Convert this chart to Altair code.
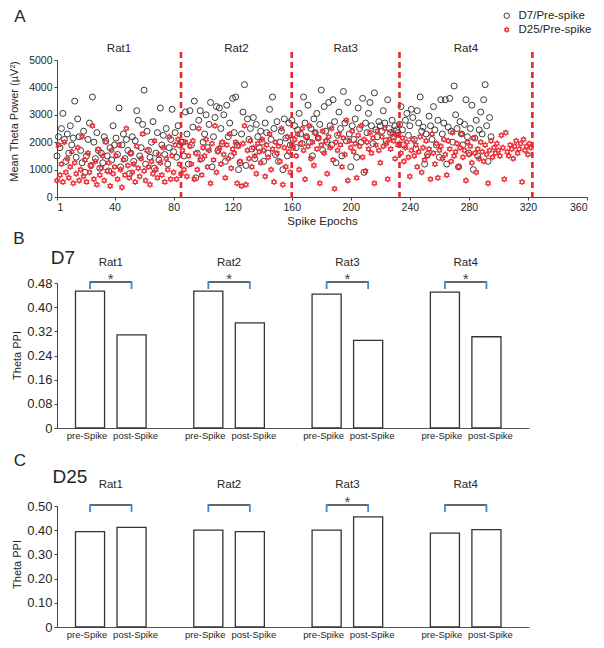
import altair as alt
import pandas as pd

FONT = "Liberation Sans, Arial, Helvetica, sans-serif"

# ---------------- data ----------------
rat_names = ["Rat1", "Rat2", "Rat3", "Rat4"]
rat_starts = [1, 85, 160, 233]
rat_bounds = [85, 160, 233, 323]          # dashed separators (spike epoch)
series_names = ["D7/Pre-spike", "D25/Pre-spike"]

# Mean theta power (uV^2) per spike epoch, D7 pre-spike (black circles)
d7_pre_power = [
    # Rat1
    1500, 2200, 1800, 2500, 3050, 2100, 1300, 2300, 1600, 2600,
    1900, 2150, 3500, 1450, 2850, 2200, 1700, 1250, 2400, 900,
    1500, 2100, 2700, 1150, 3650, 2000, 1400, 2350, 1700, 1050,
    1600, 1250, 2200, 2050, 1500, 950, 1800, 1350, 2600, 1900,
    2150, 1550, 3250, 1100, 1900, 2300, 1400, 2100, 1700, 850,
    1600, 2200, 1300, 2050, 3150, 2800, 1500, 1800, 2650, 3900,
    1200, 2400, 1700, 1450, 2000, 2750, 1050, 1600, 2350, 1350,
    3250, 1900, 2250, 1550, 2500, 1200, 1800, 2100, 3200, 1650,
    2350, 1450, 2600, 1900, 2000,
    # Rat2
    2000, 1500, 3100, 2300, 1200,
    3150, 1900, 2550, 3500, 700, 1600, 2800, 3150, 1400, 2000,
    2300, 3000, 1800, 2650, 3450, 1100, 2200, 2900, 3300, 1700,
    3250, 2500, 1950, 3000, 1300, 3350, 2200, 2700, 1500, 3600,
    2350, 3650, 1900, 1000, 1250, 2300, 3100, 4100, 1150, 2850,
    2100, 2500, 1750, 2900, 1400, 2650, 2200, 1800, 2400, 2000,
    1300, 2700, 2350, 1600, 3200, 2100, 3650, 2500, 1550, 2750,
    1300, 2000, 2400, 1000, 2850, 2150, 1500, 2700, 1900, 2800,
    # Rat3
    2100, 2600, 1800, 2450, 3050, 2300, 1950, 3650, 2700, 2200,
    3350, 2000, 2500, 1500, 2850, 2350, 3050, 2150, 2650, 3900,
    1700, 3300, 2400, 2000, 3450, 2600, 1900, 3550, 2750, 1250,
    2250, 3100, 2500, 1500, 3850, 2700, 2050, 3450, 2300, 1100,
    2600, 2100, 2850, 1450, 3250, 2500, 2000, 3600, 900, 2700,
    2350, 3050, 3450, 2600, 1950, 3800, 2450, 2200, 2750, 2600,
    2400, 3150, 2700, 2050, 3550, 2500, 2350, 2800, 2200, 2600, 2450, 2350,
    # Rat4
    2650, 3300, 2450, 1900, 2800, 3050, 2250, 2600,
    3200, 2900, 2100, 1750, 3150, 2700, 3650, 2400, 2550, 1200,
    2300, 1550, 2950, 2600, 2100, 3300, 2450, 1900, 2800, 1450,
    3550, 2300, 2700, 3550, 1200, 2550, 3600, 2400, 2000, 4050,
    3000, 2500, 1100, 2750, 2300, 1900, 2650, 3550, 2200, 1600,
    2500, 3350, 1000, 2150, 2800, 1500, 2450, 3100, 2300, 3550,
    4100, 2600, 1300, 2900, 2200,
]

# D25 pre-spike (red hexagrams)
d25_pre_power = [
    # Rat1
    600, 1900, 800, 1200, 550, 2000, 900, 1400, 700, 1100,
    1650, 500, 1250, 850, 1800, 600, 1000, 2200, 750, 1350,
    550, 1600, 900, 1150, 2600, 650, 1300, 450, 1750, 800,
    1050, 1500, 600, 2000, 950, 1250, 400, 1700, 850, 1100,
    1500, 650, 1900, 1000, 350, 1350, 800, 2500, 1150, 700,
    1600, 900, 1200, 550, 1850, 1050, 750, 1400, 2300, 950,
    600, 1700, 1100, 450, 1300, 850, 2050, 1000, 700, 1550,
    1250, 800, 1800, 550, 1400, 1000, 2200, 650, 1500, 900,
    1900, 650, 2100, 1200, 850,
    # Rat2
    1700, 1000, 2000, 750, 1500,
    1850, 1200, 2050, 650, 1600, 1000, 2500, 1350, 800, 1800,
    1500, 2100, 1100, 1700, 500, 1950, 1350, 2600, 900, 1650,
    1800, 1200, 2000, 1550, 700, 1900, 1400, 2300, 1050, 1750,
    1600, 2000, 500, 1850, 1300, 400, 1950, 2600, 450, 1700,
    1400, 2050, 1100, 1800, 1500, 850, 1950, 1650, 1250, 2100,
    1700, 750, 1900, 1450, 2300, 1000, 1750, 550, 2000, 1600,
    1850, 1300, 2500, 450, 1800, 1100, 2200, 1650, 900, 1900,
    # Rat3
    1800, 2100, 1500, 2300, 1000, 1950, 2500, 1700, 650, 2200,
    1850, 2600, 1400, 2000, 1150, 2350, 1750, 2150, 500, 1900,
    2400, 1600, 2050, 850, 2200, 1800, 2500, 1350, 300, 2000,
    1700, 2300, 1900, 1100, 2150, 1550, 2800, 600, 2050, 1800,
    2400, 1650, 1950, 700, 2250, 1850, 2600, 1450, 2100, 950,
    2000, 1750, 2350, 1600, 2150, 500, 1900, 2400, 1700, 1250,
    2200, 1850, 2500, 1950, 650, 2100, 1750, 2300, 2050, 1400, 2250, 1900,
    # Rat4
    1950, 1600, 2150, 1300, 1800, 2000, 1450, 750,
    1700, 2100, 1500, 1900, 1100, 1650, 2200, 900, 1800, 1350,
    2050, 1500, 1750, 650, 2300, 1600, 1200, 1950, 700, 1700,
    1850, 1400, 2100, 1550, 800, 2050, 1750, 1300, 2350, 1500,
    1650, 1950, 1100, 1800, 2300, 1450, 1700, 600, 2000, 1550,
    1850, 1250, 2150, 1600, 900, 1750, 1400, 2000, 1650, 1300,
    1900, 1550, 500, 1700, 2050, 1450, 1800, 1600, 1950, 1700,
    1500, 2250, 1800, 650, 2350, 1650, 1500, 1900, 1750, 1400,
    1850, 2050, 1600, 1750, 1950, 550, 2100, 1700, 1850, 1550, 1950, 1800,
]

phases = ["pre-Spike", "post-Spike"]
d7_pre_ppi = [0.453, 0.453, 0.443, 0.450]
d7_post_ppi = [0.308, 0.348, 0.290, 0.302]
d7_sig = [True, True, True, True]
d25_pre_ppi = [0.394, 0.400, 0.400, 0.388]
d25_post_ppi = [0.412, 0.394, 0.455, 0.402]
d25_sig = [False, False, True, False]

# ---------------- colours ----------------
BLACK = "#3a3a3a"
RED = "#ec2d36"
DASH_RED = "#e8262e"
BLUE = "#3a8ad6"
TXT = "#262626"
HEX = "M0,-1L0.866,0.5L-0.866,0.5ZM0,1L0.866,-0.5L-0.866,-0.5Z"

# ---------------- panel A ----------------
WA, HA = 530, 187          # plot top at page y=8, axis 0 at y=195
PX_A = 137                 # pixels for 0..5000

rows = []
for i, v in enumerate(d7_pre_power):
    rows.append({"epoch": i + 1, "power": v, "series": series_names[0]})
for i, v in enumerate(d25_pre_power):
    rows.append({"epoch": i + 1, "power": v, "series": series_names[1]})
scatter_df = pd.DataFrame(rows)

xA = alt.Scale(domain=[1, 360], nice=False, zero=False)
yA = alt.Scale(domain=[0, 5000], range=[HA, HA - PX_A], nice=False)

leg = alt.Legend(orient="none", legendX=444, legendY=0, title=None,
                 labelFontSize=11.5, symbolSize=30, symbolStrokeWidth=1,
                 rowPadding=1, padding=0, labelOffset=6, labelColor=TXT)

points = alt.Chart(scatter_df).mark_point(filled=False, strokeWidth=1, opacity=1, size=36).encode(
    x=alt.X("epoch:Q", scale=xA, axis=alt.Axis(
        values=[1, 40, 80, 120, 160, 200, 240, 280, 320, 360], title="Spike Epochs",
        labelFontSize=10.5, titleFontSize=11.5, titleFontWeight="normal", tickSize=3,
        labelPadding=2, titlePadding=3, grid=False)),
    y=alt.Y("power:Q", scale=yA, axis=alt.Axis(
        values=[0, 1000, 2000, 3000, 4000, 5000], format="d",
        title="Mean Theta Power (\u00b5V\u00b2)",
        labelFontSize=10.5, titleFontSize=11, titleFontWeight="normal", tickSize=3,
        labelPadding=2, grid=False, titleX=-43, titleY=111, titleAlign="center",
        titleBaseline="middle")),
    color=alt.Color("series:N", scale=alt.Scale(domain=series_names, range=[BLACK, RED]),
                    legend=leg),
    shape=alt.Shape("series:N", scale=alt.Scale(domain=series_names, range=["circle", HEX]),
                    legend=leg),
    order=alt.Order("series_order:Q"),
).transform_calculate(series_order=f"datum.series == '{series_names[0]}' ? 0 : 1")

bounds_df = pd.DataFrame({"epoch": rat_bounds})
dashes = alt.Chart(bounds_df).mark_rule(color=DASH_RED, strokeWidth=2.6, strokeDash=[6, 4]).encode(
    x=alt.X("epoch:Q", scale=xA), y=alt.value(42), y2=alt.value(HA + 2))

rat_df_a = pd.DataFrame({"rat": rat_names, "start": rat_starts, "end": rat_bounds})
rat_text_a = alt.Chart(rat_df_a).mark_text(fontSize=11.5, color=TXT, baseline="middle").encode(
    x=alt.X("center:Q", scale=xA), y=alt.value(39), text="rat:N"
).transform_calculate(center="(datum.start + datum.end) / 2")

letter_a = alt.Chart(pd.DataFrame({"t": ["A"]})).mark_text(
    fontSize=17, color=TXT, baseline="middle", align="center").encode(
    x=alt.value(-37), y=alt.value(7), text="t:N")

panel_a = alt.layer(points, dashes, rat_text_a, letter_a).properties(width=WA, height=HA)


# ---------------- panels B / C ----------------
def bar_panel(pre, post, sig, top, zero_y, max_y, ymax, ticks, letter, day, day_xy,
              letter_xy, rat_y, star_y, br_y, br_end_y, title_y):
    H = zero_y - top
    W = 472
    px = zero_y - max_y
    df = pd.DataFrame({
        "rat": rat_names * 2,
        "phase": [phases[0]] * 4 + [phases[1]] * 4,
        "ppi": list(pre) + list(post),
    })
    xs = alt.Scale(domain=rat_names, paddingInner=0.298, paddingOuter=0.144, align=0.36)
    xo = alt.Scale(domain=phases, paddingInner=0.3, paddingOuter=0.15)
    ys = alt.Scale(domain=[0, ymax], range=[H, H - px], nice=False)

    bars = alt.Chart(df).mark_bar(fill="white", stroke="#333333", strokeWidth=1.3).encode(
        x=alt.X("rat:N", scale=xs, axis=alt.Axis(labels=False, ticks=False, title=None,
                                                  domainColor="#555555")),
        xOffset=alt.XOffset("phase:N", scale=xo),
        y=alt.Y("ppi:Q", scale=ys, axis=alt.Axis(
            values=ticks, title="Theta PPI", grid=False, tickSize=3, labelFontSize=13,
            labelPadding=2, titleFontSize=11, titleFontWeight="normal",
            labelExpr="datum.value == 0 ? '0' : format(datum.value, '.2f')",
            titleX=-40, titleY=title_y - top, titleAlign="center", titleBaseline="middle")),
    )
    pre_text = alt.Chart(df).transform_filter(f"datum.phase == '{phases[0]}'").mark_text(
        fontSize=9.5, color=TXT, baseline="middle", dx=-3).encode(
        x=alt.X("rat:N", scale=xs), xOffset=alt.XOffset("phase:N", scale=xo),
        y=alt.value(H + 8), text="phase:N")
    post_text = alt.Chart(df).transform_filter(f"datum.phase == '{phases[1]}'").mark_text(
        fontSize=9.5, color=TXT, baseline="middle", dx=4).encode(
        x=alt.X("rat:N", scale=xs), xOffset=alt.XOffset("phase:N", scale=xo),
        y=alt.value(H + 8), text="phase:N")

    rdf = pd.DataFrame({"rat": rat_names, "sig": sig})
    rat_text = alt.Chart(rdf).mark_text(fontSize=11.5, color=TXT, baseline="middle").encode(
        x=alt.X("rat:N", scale=xs), y=alt.value(rat_y - top), text="rat:N")
    bracket = alt.Chart(rdf).mark_tick(orient="horizontal", size=42, thickness=1.6,
                                       color="#333333", opacity=1).encode(
        x=alt.X("rat:N", scale=xs), y=alt.value(br_y - top))
    ends = alt.Chart(df).mark_bar(size=1.8, color=BLUE).encode(
        x=alt.X("rat:N", scale=xs), xOffset=alt.XOffset("phase:N", scale=xo),
        y=alt.value(br_y - top - 0.8), y2=alt.value(br_end_y - top))
    stars = alt.Chart(rdf).transform_filter("datum.sig").mark_text(
        fontSize=15, color="#444444", baseline="middle").encode(
        x=alt.X("rat:N", scale=xs), y=alt.value(star_y - top + 2), text=alt.value("*"))
    let = alt.Chart(pd.DataFrame({"t": [letter]})).mark_text(
        fontSize=17, color=TXT, baseline="middle", align="center").encode(
        x=alt.value(letter_xy[0] - 58), y=alt.value(letter_xy[1] - top), text="t:N")
    dayt = alt.Chart(pd.DataFrame({"t": [day]})).mark_text(
        fontSize=19, color=TXT, baseline="middle", align="center").encode(
        x=alt.value(day_xy[0] - 58), y=alt.value(day_xy[1] - top), text="t:N")
    return alt.layer(bars, pre_text, post_text, rat_text, bracket, ends, stars, let,
                     dayt).properties(width=W, height=H)


B_TOP = 226
panel_b = bar_panel(d7_pre_ppi, d7_post_ppi, d7_sig, top=B_TOP, zero_y=427, max_y=282,
                    ymax=0.48, ticks=[0, 0.08, 0.16, 0.24, 0.32, 0.40, 0.48],
                    letter="B", day="D7", day_xy=(64, 257), letter_xy=(20, 238),
                    rat_y=262, star_y=276, br_y=281, br_end_y=288, title_y=354)

C_TOP = 441
panel_c = bar_panel(d25_pre_ppi, d25_post_ppi, d25_sig, top=C_TOP, zero_y=627, max_y=506,
                    ymax=0.50, ticks=[0, 0.10, 0.20, 0.30, 0.40, 0.50],
                    letter="C", day="D25", day_xy=(71, 477), letter_xy=(21, 461),
                    rat_y=485, star_y=500, br_y=505, br_end_y=512, title_y=564)

chart = alt.vconcat(panel_a, panel_b, panel_c, spacing=0).properties(padding=0).configure(
    font=FONT
).configure_view(stroke=None).configure_axis(
    domainColor="#444444", tickColor="#444444", labelColor=TXT, titleColor=TXT,
    labelFont=FONT, titleFont=FONT
).configure_text(font=FONT).configure_legend(labelFont=FONT)

chart.save("out.html", embed_options={"renderer": "svg", "actions": False})
